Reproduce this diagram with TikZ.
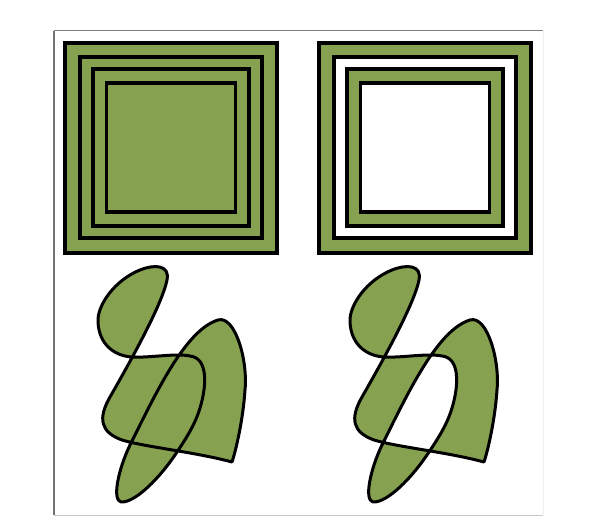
\documentclass[tikz,border=0pt]{standalone}
\definecolor{leaf}{RGB}{134,161,79}
\begin{document}
\begin{tikzpicture}[x=1pt,y=-1pt,
  shapefill/.style={fill=leaf,draw=black,line width=3.6pt,line join=miter},
  blobfill/.style={fill=leaf,draw=black,line width=3pt,line join=round}]
\useasboundingbox (0,0) rectangle (598,532);
\fill[white] (0,0) rectangle (598,532);
% frame
\draw[gray!90!black,line width=1.2pt] (54,515) -- (54,31);
\draw[gray,line width=1pt] (54,31) -- (543,31);
\draw[gray!45,line width=1pt] (54,515) -- (543,515);
\draw[gray!12,line width=1pt] (543,31) -- (543,515);
% squares: nonzero (left) and even odd (right)
\foreach \cx/\rule in {171/nonzero rule,425/even odd rule}{
  \path[shapefill,\rule]
    (\cx-106,43) rectangle (\cx+106,253)
    (\cx-91,57) rectangle (\cx+91,238)
    (\cx-78,69) rectangle (\cx+78,226)
    (\cx-64.5,83) rectangle (\cx+64.5,212);
}
% blobs
\foreach \dx/\rule in {0/nonzero rule,252/even odd rule}{
\begin{scope}[xshift=\dx]
\draw[blobfill,\rule]
  (232,462) .. controls (195,452) and (145,447) .. (122,440)
  .. controls (100,432) and (98,418) .. (110,397)
  .. controls (130,362) and (162,305) .. (167,280)
  .. controls (170,265) and (155,264) .. (140,270)
  .. controls (115,280) and (97,305) .. (98,322)
  .. controls (99,345) and (115,356) .. (132,357)
  .. controls (150,358) and (175,353) .. (190,356)
  .. controls (208,358) and (207,385) .. (200,408)
  .. controls (195,425) and (185,440) .. (177,452)
  .. controls (160,478) and (135,503) .. (121,502)
  .. controls (112,500) and (118,470) .. (130,445)
  .. controls (155,395) and (185,330) .. (218,320)
  .. controls (235,315) and (248,360) .. (245,390)
  .. controls (243,420) and (236,450) .. (232,462) -- cycle;
\end{scope}
}
\end{tikzpicture}
\end{document}
